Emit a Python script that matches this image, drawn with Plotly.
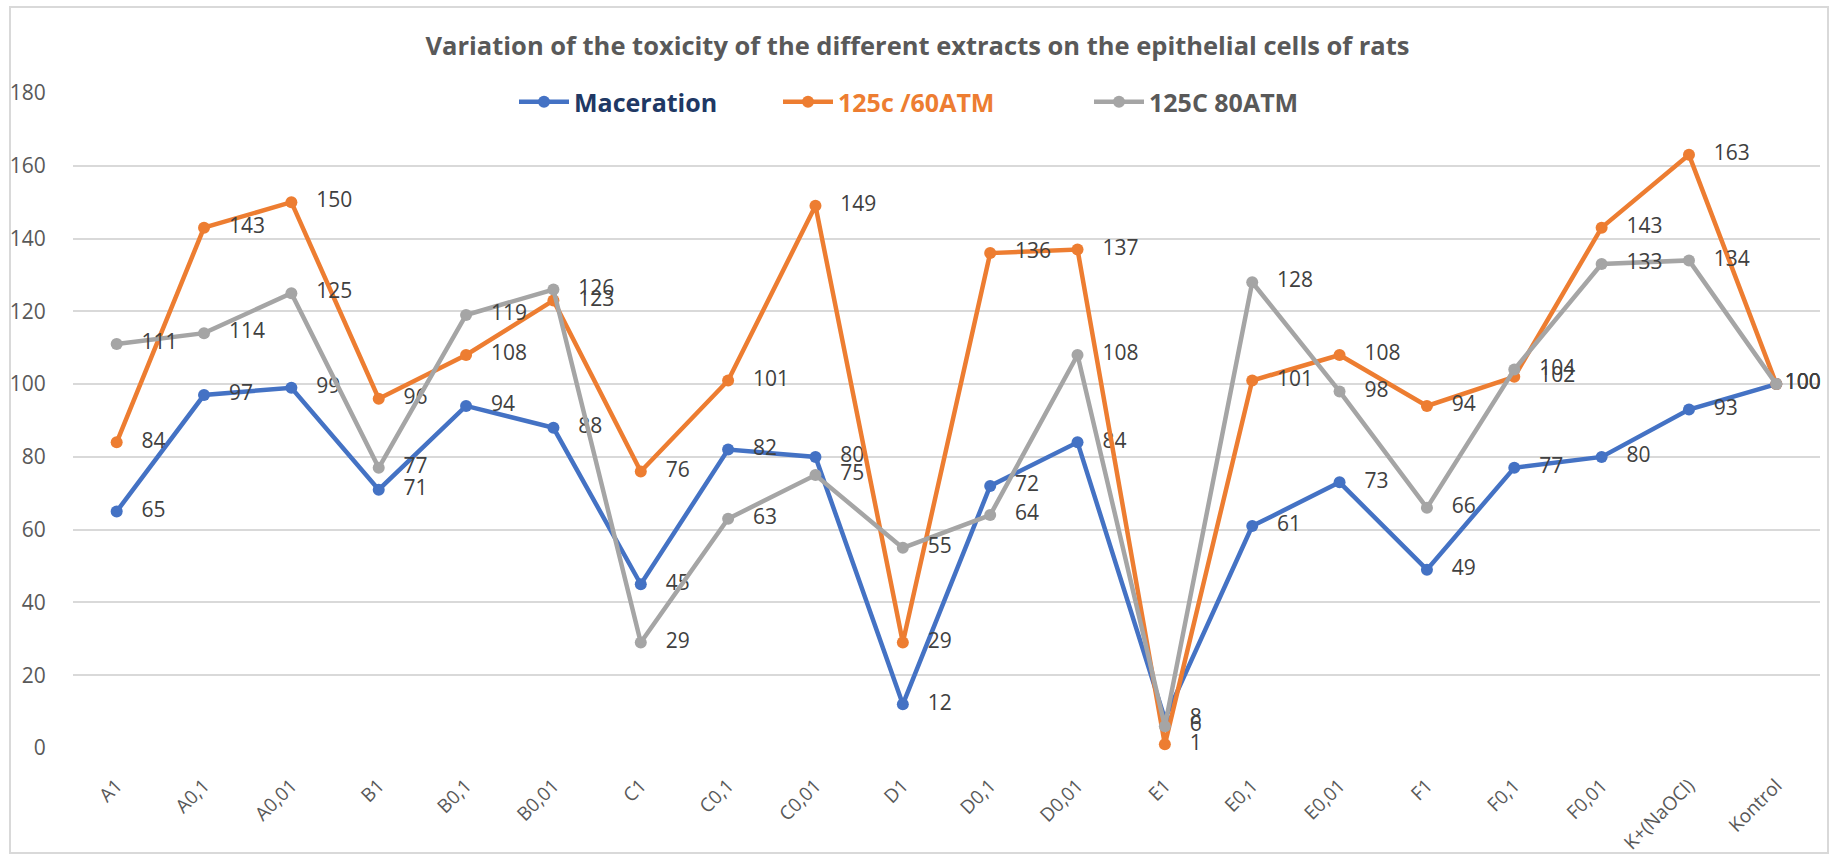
import plotly.graph_objects as go

categories = ["A1", "A0,1", "A0,01", "B1", "B0,1", "B0,01", "C1", "C0,1", "C0,01",
              "D1", "D0,1", "D0,01", "E1", "E0,1", "E0,01", "F1", "F0,1", "F0,01",
              "K+(NaOCl)", "Kontrol"]
maceration = [65, 97, 99, 71, 94, 88, 45, 82, 80, 12, 72, 84, 8, 61, 73, 49, 77, 80, 93, 100]
c125_60atm = [84, 143, 150, 96, 108, 123, 76, 101, 149, 29, 136, 137, 1, 101, 108, 94, 102, 143, 163, 100]
c125_80atm = [111, 114, 125, 77, 119, 126, 29, 63, 75, 55, 64, 108, 6, 128, 98, 66, 104, 133, 134, 100]
y_ticks = [0, 20, 40, 60, 80, 100, 120, 140, 160, 180]

series = [
    ("Maceration", maceration, "#4472C4", "#203864", "legend", 514),
    ("125c /60ATM", c125_60atm, "#ED7D31", "#ED7D31", "legend2", 778),
    ("125C 80ATM", c125_80atm, "#A5A5A5", "#595959", "legend3", 1089),
]

W, H = 1835, 854
L, R, T, B = 73, 15, 93, 106
pw, ph = W - L - R, H - T - B

def px_x(p):
    return (p - L) / pw

def px_y(p):
    return (H - B - p) / ph

fig = go.Figure()
pad = "\u00a0\u00a0\u00a0"
layout_legends = {}
for name, vals, col, tcol, lg, lx in series:
    labels = [pad + str(v) for v in vals]
    labels[-1] = str(vals[-1])
    fig.add_trace(go.Scatter(
        x=categories, y=vals, name=name, legend=lg,
        mode="lines+markers+text",
        line=dict(color=col, width=4.5),
        marker=dict(color=col, size=12),
        text=labels,
        textposition="middle right",
        textfont=dict(family="Open Sans", size=21, color="#404040"),
        cliponaxis=False,
    ))
    layout_legends[lg] = dict(
        x=px_x(lx), y=px_y(102), orientation="h", yanchor="middle", xanchor="left",
        bgcolor="rgba(0,0,0,0)", itemwidth=50,
        font=dict(family="Open Sans", size=25, color=tcol, weight="bold"),
    )

fig.update_layout(**layout_legends)

fig.update_layout(
    width=W, height=H, showlegend=True,
    margin=dict(l=L, r=R, t=T, b=B, autoexpand=False),
    paper_bgcolor="white", plot_bgcolor="white",
    title=dict(text="<b>Variation of the toxicity of the different extracts on the epithelial cells of rats</b>",
               x=0.5, xref="container", xanchor="center", y=1 - 46 / H, yanchor="middle",
               font=dict(family="Open Sans", size=25.5, color="#595959")),
    xaxis=dict(range=[-0.5, 19.5], tickangle=-45, showgrid=False, zeroline=False, automargin=False,
               ticks="outside", ticklen=18, tickcolor="rgba(0,0,0,0)", showline=False,
               tickfont=dict(family="Open Sans", size=19, color="#595959")),
    yaxis=dict(range=[0, 180], tickvals=y_ticks, showgrid=True, gridcolor="#D9D9D9", gridwidth=1.5,
               zeroline=False, showline=False, automargin=False,
               ticks="outside", ticklen=22, tickcolor="rgba(0,0,0,0)",
               tickfont=dict(family="Open Sans", size=21, color="#595959")),
    shapes=[dict(type="rect", xref="paper", yref="paper",
                 x0=px_x(10), x1=px_x(1828), y0=px_y(853), y1=px_y(7),
                 line=dict(color="#D9D9D9", width=2), layer="below")],
)

fig.write_html("out.html", config={"displayModeBar": False},
               post_script="document.body.style.margin='0';document.body.style.padding='0';")
